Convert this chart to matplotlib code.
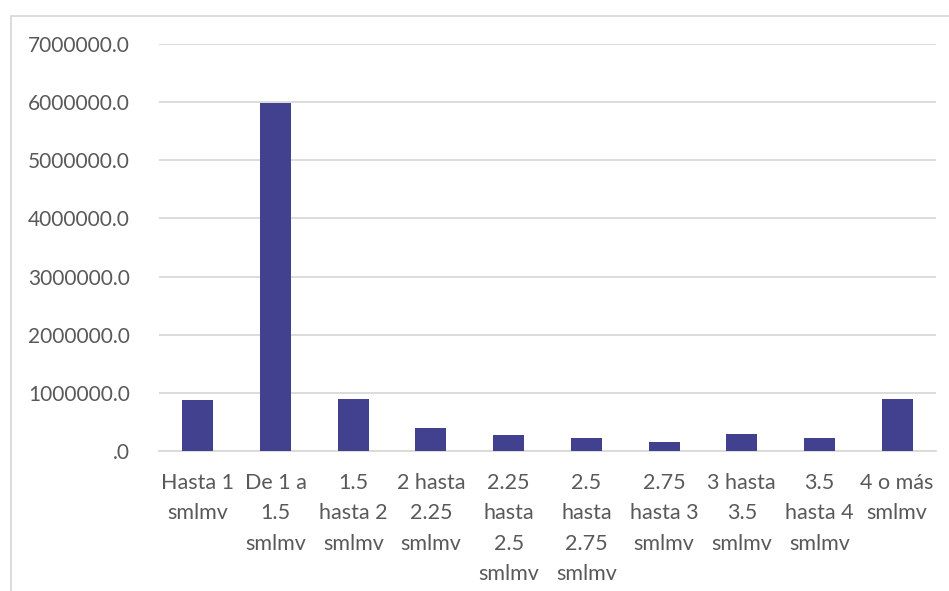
import matplotlib
matplotlib.use("Agg")
from matplotlib import pyplot as plt
from matplotlib.patches import Rectangle
from matplotlib.ticker import FuncFormatter

# categorias (rangos de ingreso en smlmv)
categorias = ["Hasta 1\nsmlmv", "De 1 a\n1.5\nsmlmv", "1.5\nhasta 2\nsmlmv",
              "2 hasta\n2.25\nsmlmv", "2.25\nhasta\n2.5\nsmlmv",
              "2.5\nhasta\n2.75\nsmlmv", "2.75\nhasta 3\nsmlmv",
              "3 hasta\n3.5\nsmlmv", "3.5\nhasta 4\nsmlmv", "4 o más\nsmlmv"]
valores = [875000, 5990000, 895000, 400000, 270000,
           230000, 160000, 290000, 220000, 890000]
yticks = [0, 1000000, 2000000, 3000000, 4000000, 5000000, 6000000, 7000000]

plt.rcParams['font.family'] = ['Lato', 'DejaVu Sans']

fig = plt.figure(figsize=(9.49, 5.91), dpi=100)
# marco gris del grafico
fig.patches.append(Rectangle((11 / 949, -0.1), 1.2, 1 - 16 / 591 + 0.1,
                             transform=fig.transFigure, fill=False,
                             edgecolor='#D9D9D9', linewidth=1.3))

ax = fig.add_axes([159 / 949, 1 - 451 / 591, (936 - 159) / 949, (451 - 44) / 591])
x = range(len(categorias))
ax.bar(x, valores, width=0.4, color='#41418F', zorder=3)

ax.set_ylim(0, 7000000)
ax.set_xlim(-0.5, len(categorias) - 0.5)
ax.set_yticks(yticks)
ax.yaxis.set_major_formatter(FuncFormatter(lambda v, p: ".0" if v == 0 else "%.1f" % v))
ax.grid(axis='y', color='#D9D9D9', linewidth=1.3, zorder=0)
for s in ['top', 'right', 'left']:
    ax.spines[s].set_visible(False)
ax.spines['bottom'].set_color('#D9D9D9')
ax.spines['bottom'].set_linewidth(1.3)
ax.tick_params(axis='y', length=0, labelsize=15, colors='#595959', pad=21)
ax.tick_params(axis='x', length=0, labelsize=15.5, colors='#595959', pad=15.5)
ax.set_xticks(list(x))
ax.set_xticklabels(categorias, linespacing=1.66, va='top')

plt.savefig('out.png', dpi=100)
